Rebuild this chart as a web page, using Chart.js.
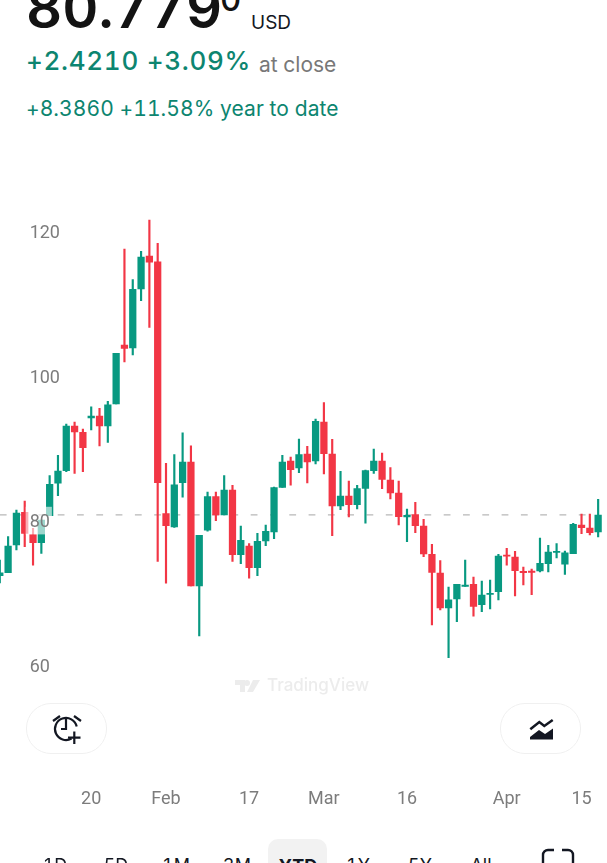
<!DOCTYPE html>
<html>
<head>
<meta charset="utf-8">
<title>Price chart</title>
<script src="https://cdn.jsdelivr.net/npm/chart.js@4"></script>
<style>
    html, body { margin: 0; padding: 0; width: 607px; height: 863px; overflow: hidden; background: #fff; font-family: Inter, sans-serif; font-variant-numeric: tabular-nums; }
    .abs { position: absolute; white-space: nowrap; line-height: 1; }
    #priceChart { position: absolute; left: -5px; top: 130px; }
    .pill { position: absolute; top: 703px; width: 79px; height: 49px; border: 1px solid #f0f0f0; border-radius: 25px; box-sizing: content-box; }
    .pill svg { position: absolute; left: 0; top: 0; }
    .range { position: absolute; top: 857px; font-size: 18px; line-height: 1; color: #131722; transform: translateX(-50%); }
</style>
</head>
<body>
<div class="abs" style="left:26px;top:-20px;font-size:56px;font-weight:600;color:#131313">80.779</div>
<div class="abs" style="left:220px;top:-17px;font-size:33px;font-weight:500;color:#131313">0</div>
<div class="abs" style="left:251px;top:13px;font-size:19px;color:#131722">USD</div>
<div class="abs" style="left:26px;top:48px;font-size:26px;font-weight:500;letter-spacing:0.7px;color:#0d8570">+2.4210 +3.09%</div>
<div class="abs" style="left:259px;top:54px;font-size:21px;color:#787878">at close</div>
<div class="abs" style="left:26px;top:98px;font-size:21px;letter-spacing:0.07px;color:#0d8570">+8.3860 +11.58% year to date</div>

<canvas id="priceChart" width="612" height="690"></canvas>

<svg class="abs" style="left:235px;top:679px" width="26" height="15" viewBox="0 0 26 15">
    <path d="M0 1h10v12H5V6H0zM18 1h7l-7 12h-6z M12 1a3 3 0 1 1 0 6a3 3 0 1 1 0-6z" fill="#ececec"/>
</svg>
<div class="abs" style="left:267px;top:677px;font-size:17px;font-weight:500;color:#ececec">TradingView</div>

<div class="pill" style="left:26px">
    <svg width="79" height="49" viewBox="0 0 79 49" fill="none" stroke="#131722" stroke-width="2.2">
        <path d="M44.5 34.5A11 11 0 1 1 49.7 22.5"/>
        <path d="M39 15v10h-5"/>
        <path d="M26 17l7-5M54 17l-7-5"/>
        <path d="M41 33.7h12.5M47.3 27.5v12.5"/>
    </svg>
</div>
<div class="pill" style="left:500px">
    <svg width="79" height="49" viewBox="0 0 79 49" fill="none" stroke="#131722" stroke-width="2.5">
        <defs>
            <pattern id="dots" width="2.4" height="2.4" patternUnits="userSpaceOnUse">
                <rect width="1.6" height="1.6" fill="#131722"/>
            </pattern>
        </defs>
        <path d="M29.3 25.3l9-7.3 5 4 8.4-6"/>
        <path d="M29 35.5v-2.5l9-7 6 4 8-5.5v11z" fill="url(#dots)" stroke="none"/>
    </svg>
</div>

<div style="position:absolute;left:268px;top:839px;width:59px;height:40px;background:#f2f2f2;border-radius:10px"></div>
<div class="range" style="left:55px">1D</div>
<div class="range" style="left:116px">5D</div>
<div class="range" style="left:176px">1M</div>
<div class="range" style="left:237px">3M</div>
<div class="range" style="left:298px;font-weight:700">YTD</div>
<div class="range" style="left:358px">1Y</div>
<div class="range" style="left:420px">5Y</div>
<div class="range" style="left:481px">All</div>
<svg class="abs" style="left:541px;top:848px" width="34" height="15" viewBox="0 0 34 15" fill="none" stroke="#131722" stroke-width="2.4">
    <path d="M2 15V7a5 5 0 0 1 5-5h6M21 2h6a5 5 0 0 1 5 5v8"/>
</svg>

<script>
// Daily candles, oldest first
const opens = [72.37, 72.78, 76.62, 81.15, 78.05, 76.94, 80.68, 85.17, 86.91, 93.10, 92.23, 94.21, 94.49, 93.10, 96.15, 104.32, 103.90, 112.08, 116.65, 115.82, 80.96, 79.11, 85.25, 88.12, 70.94, 78.66, 83.31, 80.78, 84.24, 75.28, 76.48, 73.48, 77.17, 78.42, 84.61, 88.25, 87.28, 89.22, 88.25, 93.66, 89.22, 82.02, 83.41, 82.20, 84.47, 86.91, 88.25, 85.62, 83.82, 80.50, 80.82, 79.25, 75.33, 72.74, 67.89, 69.14, 70.90, 71.18, 68.35, 69.79, 70.15, 75.24, 74.96, 72.98, 73.02, 73.02, 74.03, 75.61, 73.95, 75.42, 79.39, 78.98, 78.42];
const highs = [74.54, 77.77, 81.47, 82.71, 78.93, 80.08, 86.22, 89.04, 93.38, 93.66, 92.69, 95.77, 95.55, 96.52, 103.17, 117.62, 113.37, 117.30, 121.63, 118.41, 87.94, 89.13, 92.17, 90.37, 77.96, 83.96, 83.96, 86.22, 84.89, 79.25, 76.80, 78.24, 79.39, 84.65, 89.04, 88.81, 91.30, 90.29, 94.07, 96.33, 91.26, 86.83, 85.48, 84.89, 87.01, 89.92, 89.36, 87.35, 85.48, 81.61, 82.53, 80.18, 76.72, 74.45, 70.80, 71.18, 74.54, 72.19, 71.63, 71.77, 75.33, 76.16, 75.75, 73.57, 73.30, 77.59, 76.58, 76.80, 75.79, 79.63, 80.91, 80.91, 82.95];
const lows = [71.36, 72.78, 75.93, 76.39, 73.81, 75.47, 80.68, 83.45, 86.77, 86.55, 86.77, 92.55, 90.33, 90.84, 96.15, 101.97, 102.94, 110.46, 106.77, 74.36, 71.32, 79.07, 83.23, 70.94, 64.02, 78.52, 79.99, 80.78, 74.36, 74.03, 72.01, 72.37, 76.52, 77.49, 84.61, 84.89, 86.63, 85.21, 87.84, 86.45, 77.91, 81.51, 80.50, 81.61, 79.63, 86.55, 84.42, 82.99, 79.39, 77.08, 78.32, 75.00, 65.54, 67.62, 61.01, 66.00, 70.90, 66.75, 67.38, 67.76, 69.00, 73.81, 69.56, 71.08, 69.74, 72.88, 72.88, 74.82, 72.56, 75.42, 78.19, 78.00, 77.73];
const closes = [72.78, 76.48, 81.05, 78.24, 76.94, 80.08, 85.03, 86.87, 93.10, 92.27, 90.10, 94.49, 93.10, 96.05, 103.17, 103.86, 112.03, 116.51, 115.78, 85.25, 79.29, 84.97, 88.12, 70.94, 77.96, 83.31, 80.78, 84.24, 75.28, 77.27, 73.48, 77.13, 78.52, 84.56, 88.12, 87.05, 89.13, 88.12, 93.75, 89.27, 82.02, 83.41, 82.20, 84.42, 86.91, 88.25, 85.72, 83.82, 80.54, 80.73, 79.29, 75.37, 72.84, 67.89, 69.04, 71.18, 71.08, 68.13, 69.70, 69.93, 75.10, 75.06, 73.06, 72.78, 72.84, 74.09, 75.65, 75.75, 75.55, 79.49, 79.02, 78.32, 80.779];

// Which candle each date label sits under
const dateTickIndexes = [11, 20, 30, 39, 49, 61, 70];
const dateTickLabels = ['20', 'Feb', '17', 'Mar', '16', 'Apr', '15'];
const priceTicks = [60, 80, 100, 120];

const upColor = '#089981';
const downColor = '#f23645';
const tickColor = '#7c7c7c';

const candleColors = closes.map((close, i) => close >= opens[i] ? upColor : downColor);
const lastClose = closes[closes.length - 1];

const ctx = document.getElementById('priceChart').getContext('2d');
new Chart(ctx, {
    type: 'bar',
    data: {
        labels: closes.map((_, i) => i),
        datasets: [{
            // Candle bodies
            data: opens.map((open, i) => [open, closes[i]]),
            backgroundColor: candleColors,
            barThickness: 6.6,
            grouped: false,
            order: 1
        }, {
            // Wicks
            data: lows.map((low, i) => [low, highs[i]]),
            backgroundColor: candleColors,
            barThickness: 1.5,
            grouped: false,
            order: 2
        }, {
            // Last price line
            type: 'line',
            data: closes.map(() => lastClose),
            borderColor: '#b8b8b8',
            borderWidth: 1.3,
            borderDash: [6.8, 12.5],
            pointRadius: 0,
            order: 3
        }]
    },
    options: {
        responsive: false,
        animation: false,
        layout: {
            padding: { left: 0.64, right: 4.7, top: 20, bottom: 0 }
        },
        plugins: {
            legend: { display: false },
            tooltip: { enabled: false }
        },
        scales: {
            x: {
                grid: { display: false, tickLength: 9 },
                border: { display: false },
                afterFit: scale => { scale.height = 35; },
                ticks: {
                    autoSkip: false,
                    maxRotation: 0,
                    padding: 4,
                    color: tickColor,
                    font: { family: 'Roboto', size: 18 },
                    callback: (value, index) => {
                        const at = dateTickIndexes.indexOf(index);
                        return at >= 0 ? dateTickLabels[at] : '';
                    }
                }
            },
            y: {
                min: 44.74,
                max: 127.89,
                grid: { display: false },
                border: { display: false },
                afterFit: scale => { scale.width = 0; },
                afterBuildTicks: scale => {
                    scale.ticks = priceTicks.map(value => ({ value }));
                },
                ticks: {
                    mirror: true,
                    padding: 34,
                    labelOffset: 2,
                    z: 1,
                    color: tickColor,
                    font: { family: 'Roboto', size: 18 },
                    showLabelBackdrop: true,
                    backdropColor: 'rgba(255, 255, 255, 0.6)',
                    backdropPadding: { left: 4, right: 2, top: 5, bottom: 1 }
                }
            }
        }
    }
});
</script>
</body>
</html>
